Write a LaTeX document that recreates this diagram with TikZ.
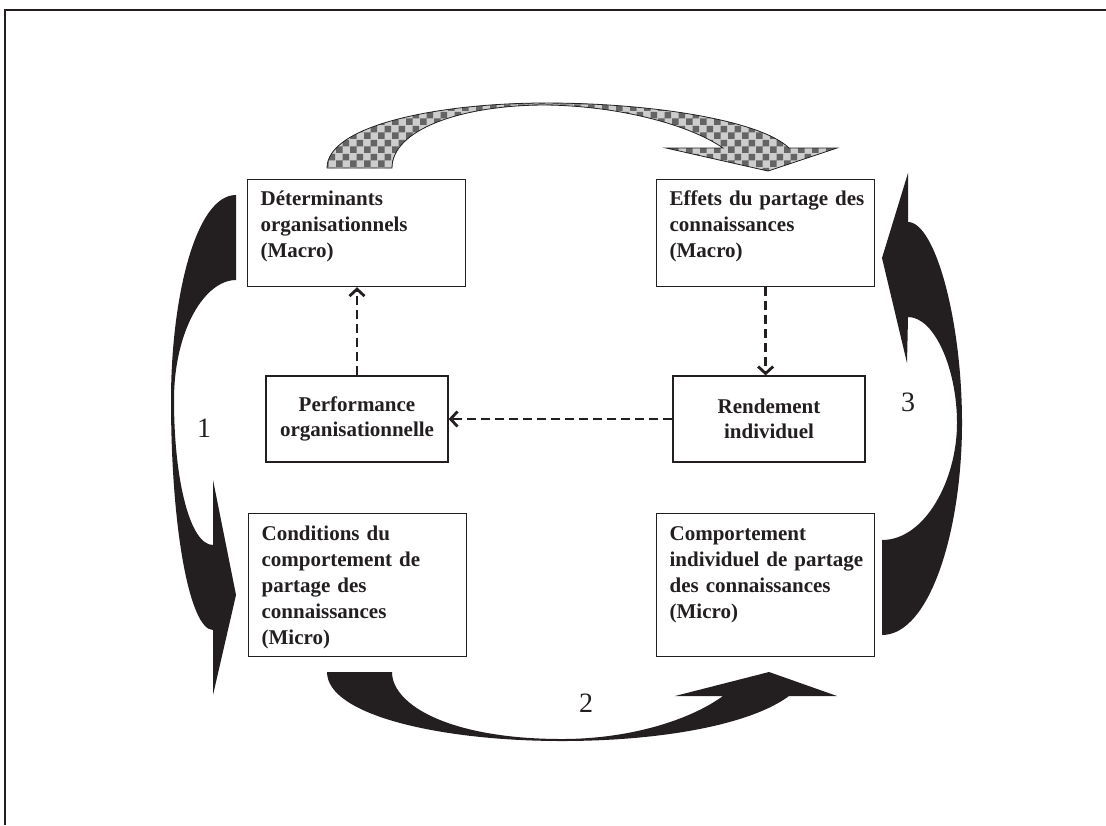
\documentclass[tikz,border=0pt]{standalone}
\usepackage{fontspec}
\setmainfont{Liberation Serif}
\usetikzlibrary{arrows.meta, patterns}

\definecolor{ink}{RGB}{35,31,32}
\definecolor{checklight}{RGB}{205,205,205}
\definecolor{checkdark}{RGB}{100,100,100}

% damier plus gros que celui de la bibliotheque
\pgfdeclarepatternformonly{bigchecker}{\pgfqpoint{0pt}{0pt}}{\pgfqpoint{7pt}{7pt}}{\pgfqpoint{7pt}{7pt}}{%
  \pgfpathrectangle{\pgfqpoint{0pt}{0pt}}{\pgfqpoint{3.5pt}{3.5pt}}%
  \pgfpathrectangle{\pgfqpoint{3.5pt}{3.5pt}}{\pgfqpoint{3.5pt}{3.5pt}}%
  \pgfusepath{fill}}

\begin{document}
\begin{tikzpicture}[
        x=0.5pt, y=-0.5pt,
        box/.style={rectangle, draw=ink, line width=0.6pt, anchor=north west, inner xsep=6.5pt, inner ysep=0pt, text width=96pt, align=left, font=\fontsize{10.5}{13}\selectfont\bfseries, text=ink},
        midbox/.style={rectangle, draw=ink, line width=0.6pt, minimum height=43pt, align=center, font=\fontsize{10.5}{12.5}\selectfont\bfseries, text=ink},
        dasharrow/.style={-{Straight Barb[length=3.5pt,width=7.5pt]}, line width=1.4pt, dash pattern=on 4.5pt off 2.5pt, draw=ink},
        bigarrow/.style={fill=ink},
        checkarrow/.style={draw=ink, line width=0.4pt, preaction={fill=checklight}, pattern=bigchecker, pattern color=checkdark},
        num/.style={font=\fontsize{14}{16}\selectfont, text=ink}
    ]
        \useasboundingbox (0,0) rectangle (1106,825);
        % Cadre
        \draw[line width=1pt, ink] (5,825) -- (5,10) -- (1106,10);

        % Les blocs
        \node (det) [box, text height=13pt, text depth=40.5pt] at (247,179) {Déterminants\\organisationnels\\(Macro)};
        \node (eff) [box, text height=13pt, text depth=40.5pt] at (656,179) {\mbox{Effets du partage des}\\connaissances\\(Macro)};
        \node (cond) [box, text height=13.5pt, text depth=58pt] at (248,513) {Conditions du\\\mbox{comportement de}\\partage des\\connaissances\\(Micro)};
        \node (comp) [box, text height=13.5pt, text depth=58pt] at (656,513) {Comportement\\\mbox{individuel de partage}\\\mbox{des connaissances}\\(Micro)};
        \node (perf) [midbox, minimum width=91pt] at (357,419) {Performance\\organisationnelle};
        \node (rend) [midbox, minimum width=96pt] at (769,419) {Rendement\\individuel};

        % Fleches en pointille
        \draw [dasharrow] (perf.north) -- (perf.north |- det.south);
        \draw [dasharrow] (eff.south) -- (eff.south |- rend.north);
        \draw [dasharrow] (rend.west) -- (perf.east);

        % Grandes fleches courbes
        \path [checkarrow] (327,168) .. controls (327,125) and (440,103) .. (546,103)
            .. controls (650,103) and (760,120) .. (789,148) -- (837,148) -- (768,171) -- (666,148) -- (723,148)
            .. controls (690,125) and (620,106) .. (546,105) .. controls (460,105) and (392,130) .. (392,168) -- cycle;
        \path [bigarrow] (236,195) .. controls (195,195) and (171,300) .. (171,400)
            .. controls (171,530) and (190,630) .. (213,630) -- (213,695) -- (236,595) -- (213,480) -- (213,545)
            .. controls (190,545) and (174,480) .. (174,400) .. controls (174,330) and (205,280) .. (236,280) -- cycle;
        \path [bigarrow] (327,672) .. controls (327,715) and (440,741) .. (562,741)
            .. controls (660,741) and (750,725) .. (789,696) -- (837,696) -- (769,672) -- (675,696) -- (723,696)
            .. controls (690,720) and (630,739) .. (562,739) .. controls (450,739) and (392,705) .. (392,672) -- cycle;
        \path [bigarrow] (882,635) .. controls (930,635) and (962,530) .. (962,423)
            .. controls (962,320) and (935,222) .. (908,222) -- (908,173) -- (882,258) -- (907,363) -- (908,317)
            .. controls (935,317) and (957,370) .. (957,423) .. controls (957,480) and (925,540) .. (882,540) -- cycle;

        % Numeros
        \node (lab1) [num] at (204,428) {1};
        \node (lab2) [num] at (586,703) {2};
        \node (lab3) [num] at (908,402) {3};
\end{tikzpicture}
\end{document}
